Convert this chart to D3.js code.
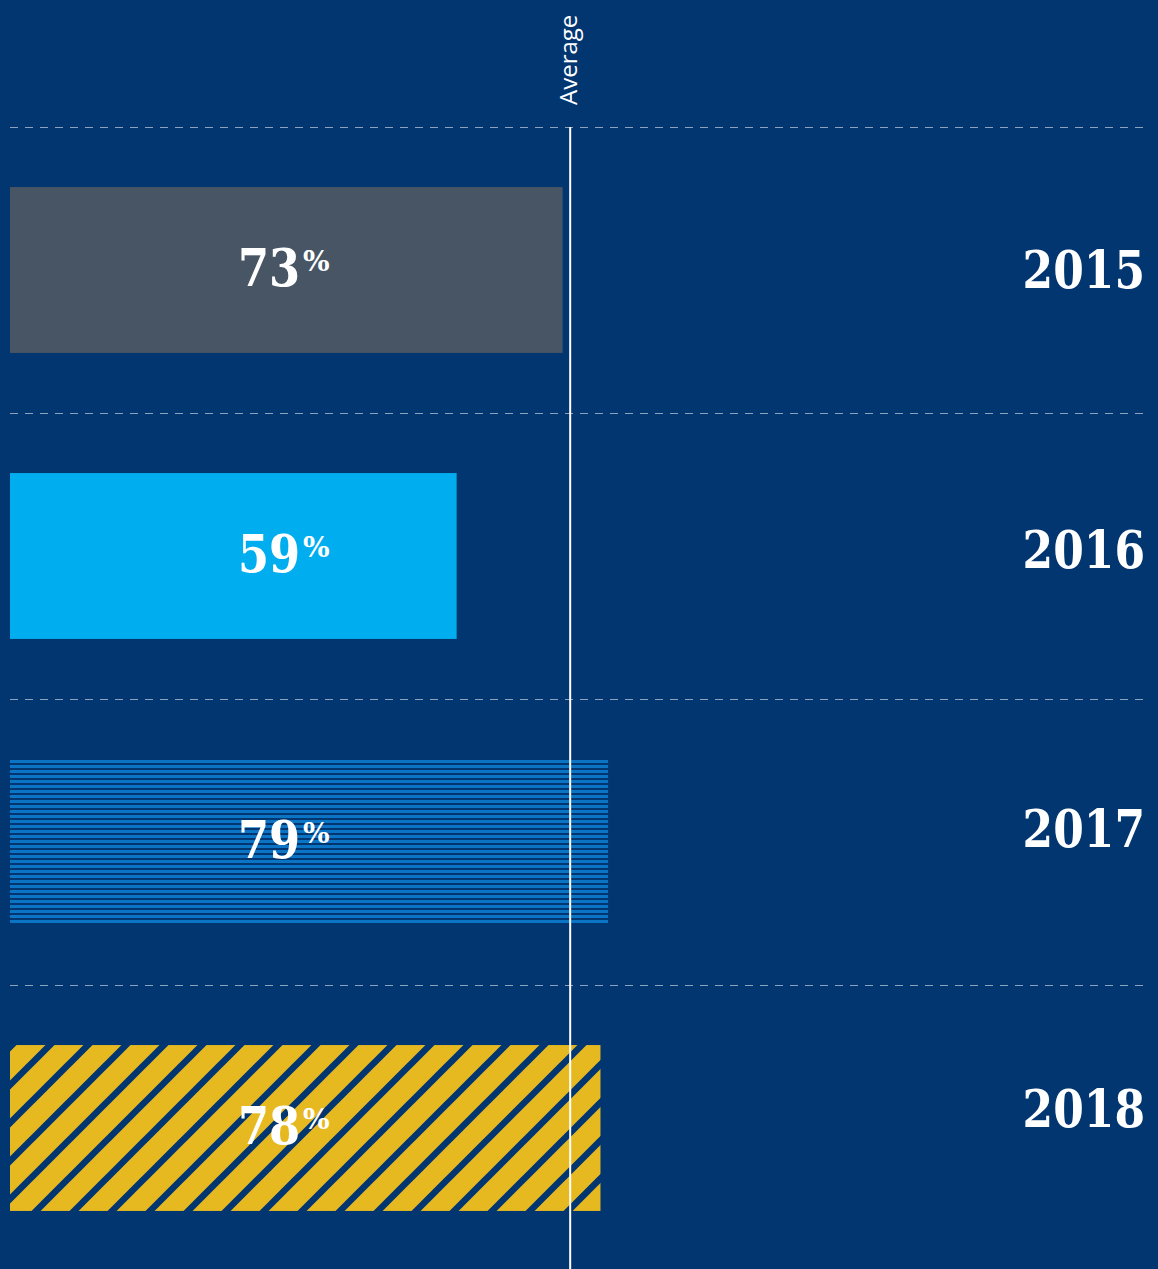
<!DOCTYPE html>
<meta charset="utf-8"/>
<style>
  html, body { margin: 0; padding: 0; background: #023670; }
  svg { display: block; }
  .grid line { stroke: #8da2bd; stroke-width: 1; stroke-dasharray: 8 7; }
  .pct, .pct-sign { font-family: "DejaVu Serif", "Liberation Serif", serif; font-weight: bold; fill: #fff; }
  .year { font-family: "DejaVu Serif", "Liberation Serif", serif; font-weight: bold; fill: #fff; font-size: 53px; }
  .avg-label { font-family: "Open Sans", "Noto Sans", sans-serif; fill: #fff; font-size: 24px; }
</style>
<body>
<svg width="1158" height="1269"></svg>
</body>
<script src="https://d3js.org/d3.v7.min.js"></script>
<script>

  // chart values
  var years = ["2015", "2016", "2017", "2018"]
  var values = [73, 59, 79, 78]
  var fills = ["#475565", "#00aeef", "url(#hstripe)", "url(#diag)"]
  var average = 74
  var averageLabel = "Average"

  var svg = d3.select("svg"),
    width = +svg.attr("width"),
    height = +svg.attr("height")

  svg.append("rect").attr("width", width).attr("height", height).attr("fill", "#023670")

  var x = d3.scaleLinear().domain([0, 100]).range([10, 767])

  // one row per year, bar sits inside each row
  var row = d3.scaleBand().domain(years).range([127, 127 + 286 * years.length])
  var barTop = function (d) { return row(d) + row.bandwidth() * 0.21 }
  var barH = row.bandwidth() * 0.58

  // year labels sit on their own, slightly tighter, spacing
  var yearY = d3.scalePoint().domain(years).range([288, 1127])

  var defs = svg.append("defs")

  // 2017: thin horizontal stripes
  var hs = defs.append("pattern")
    .attr("id", "hstripe")
    .attr("patternUnits", "userSpaceOnUse")
    .attr("width", 10).attr("height", 5)
  hs.append("rect").attr("width", 10).attr("height", 5).attr("fill", "#023670")
  hs.append("rect").attr("width", 10).attr("height", 3).attr("fill", "#0b74c4")

  // 2018: yellow with navy diagonals
  var dg = defs.append("pattern")
    .attr("id", "diag")
    .attr("patternUnits", "userSpaceOnUse")
    .attr("width", 38).attr("height", 38)
    .attr("patternTransform", "translate(31,0)")
  dg.append("rect").attr("width", 38).attr("height", 38).attr("fill", "#e7b921")
  dg.append("path")
    .attr("d", "M-10,48L48,-10M-48,48L10,-10M28,48L86,-10")
    .attr("stroke", "#023670").attr("stroke-width", 6.5)

  // dashed row separators
  svg.append("g").attr("class", "grid")
    .selectAll("line")
    .data(years)
    .enter().append("line")
    .attr("x1", 10).attr("x2", 1147)
    .attr("y1", function (d) { return row(d) + 0.5 })
    .attr("y2", function (d) { return row(d) + 0.5 })

  var data = years.map(function (y, i) { return { year: y, value: values[i], fill: fills[i] } })

  svg.append("g").selectAll("rect")
    .data(data)
    .enter().append("rect")
    .attr("x", x(0))
    .attr("y", function (d) { return barTop(d.year) })
    .attr("width", function (d) { return x(d.value) - x(0) })
    .attr("height", barH)
    .attr("fill", function (d) { return d.fill })

  // average line
  svg.append("line")
    .attr("x1", x(average)).attr("x2", x(average))
    .attr("y1", row(years[0])).attr("y2", height)
    .attr("stroke", "#fff").attr("stroke-width", 2)

  svg.append("text")
    .attr("class", "avg-label")
    .attr("transform", "translate(" + (x(average) + 7) + ",105) rotate(-90)")
    .text(averageLabel)

  // value labels: number (squeezed a bit) + raised percent sign
  var labelY = function (d) { return barTop(d.year) + barH / 2 + 16 }

  svg.append("g").selectAll("text")
    .data(data)
    .enter().append("text")
    .attr("class", "pct")
    .attr("transform", function (d) { return "translate(238," + labelY(d) + ") scale(0.86,1)" })
    .attr("font-size", 52)
    .text(function (d) { return d.value })

  svg.append("g").selectAll("text")
    .data(data)
    .enter().append("text")
    .attr("class", "pct-sign")
    .attr("x", 303)
    .attr("y", function (d) { return labelY(d) - 15 })
    .attr("font-size", 28)
    .text("%")

  // year labels
  svg.append("g").selectAll("text")
    .data(data)
    .enter().append("text")
    .attr("class", "year")
    .attr("text-anchor", "end")
    .attr("transform", function (d) { return "translate(1145," + yearY(d.year) + ") scale(0.83,1)" })
    .text(function (d) { return d.year })

</script>
